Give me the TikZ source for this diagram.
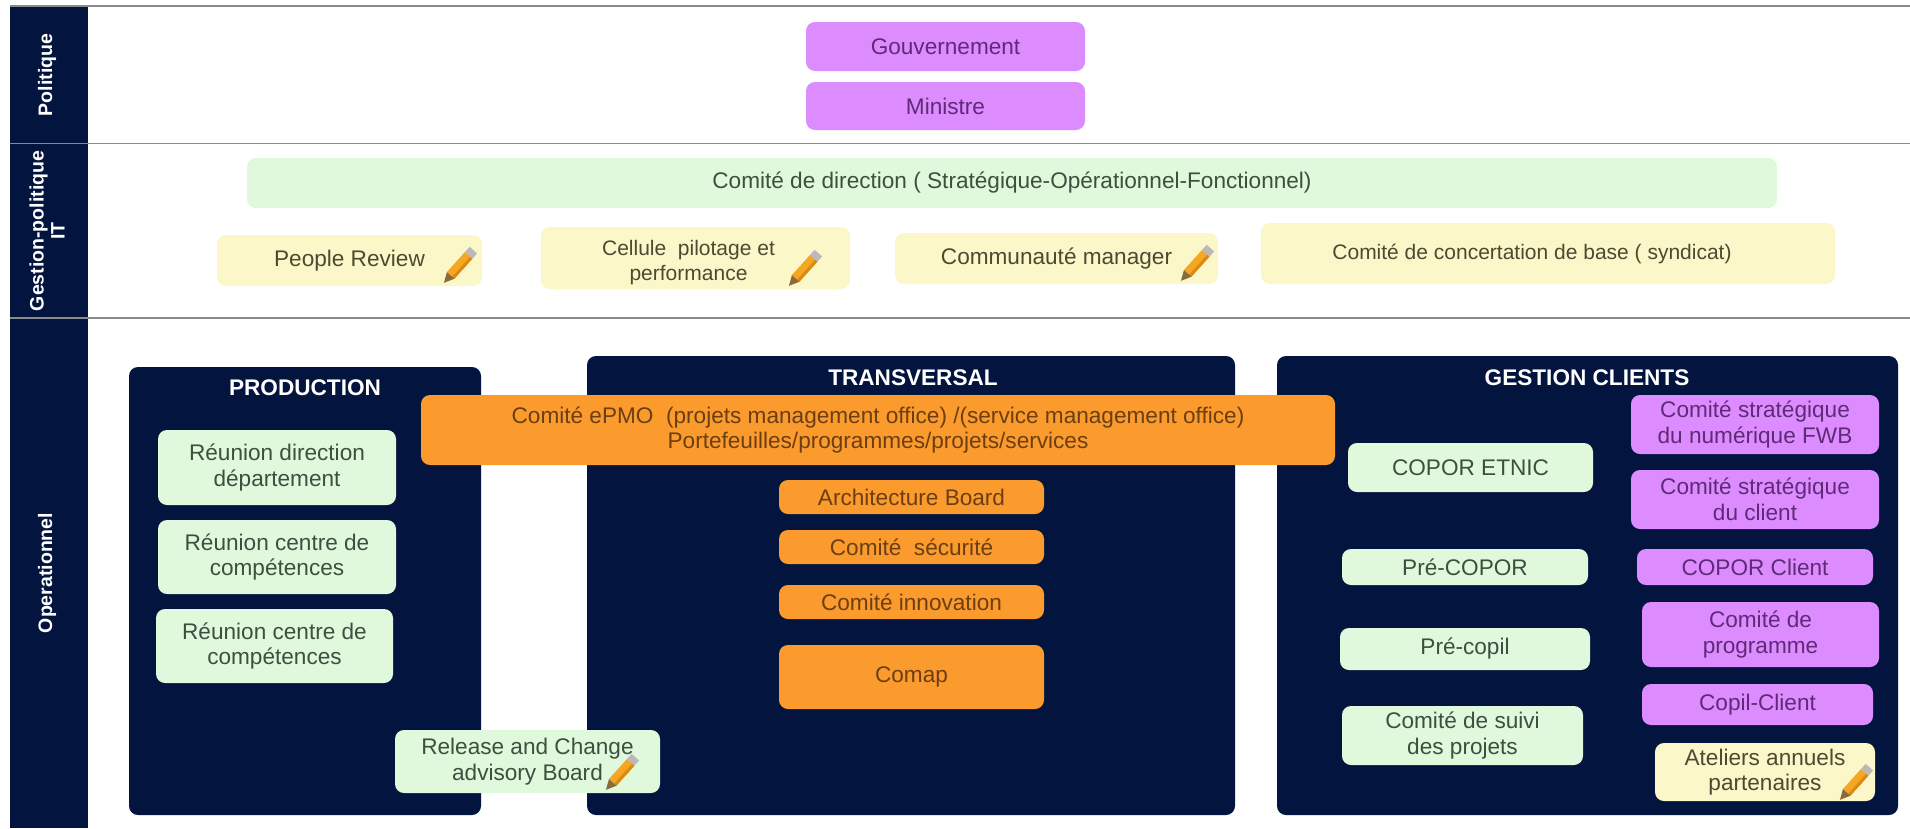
\documentclass[tikz,border=0pt]{standalone}
\usepackage{fontspec}
\setmainfont{Liberation Sans}
\definecolor{navy}{HTML}{03143F}
\definecolor{purp}{HTML}{DC8CFF}
\definecolor{grn}{HTML}{E0F8DC}
\definecolor{yel}{HTML}{FBF7C8}
\definecolor{org}{HTML}{FB9A2D}
\definecolor{rulegray}{HTML}{8A8A8A}
\definecolor{tgrn}{HTML}{3E4F3F}
\definecolor{tyel}{HTML}{4B4A32}
\definecolor{tpur}{HTML}{5F2A77}
\definecolor{torg}{HTML}{6B3F12}
\definecolor{penbody}{HTML}{F5A623}
\definecolor{penedge}{HTML}{D98A12}
\definecolor{pentip}{HTML}{8A6A3A}
\newcommand{\bx}[7]{%
 \pgfmathsetmacro{\bw}{#4-#2}\pgfmathsetmacro{\bh}{#5-#3}%
 \pgfmathsetmacro{\cx}{(#2+#4)/2}\pgfmathsetmacro{\cy}{(#3+#5)/2}%
 \node[#6,minimum width=\bw pt,minimum height=\bh pt] (#1) at (\cx,\cy) {#7};}
\newcommand{\pencilat}[2]{%
 \begin{scope}[shift={(#1,#2)},rotate=48]
  \fill[penbody] (-14,-5) rectangle (13,5);
  \fill[penedge] (-14,2) rectangle (13,5);
  \fill[gray!55] (13,-5) rectangle (20,5);
  \fill[pentip] (-14,-5) -- (-24,0) -- (-14,5) -- cycle;
 \end{scope}}
\tikzset{
 x=1pt,y=-1pt,
 base/.style={rounded corners=9pt,align=center,font=\fontsize{22.6}{25.5}\selectfont,inner sep=0pt},
 pgreen/.style={base,fill=grn,text=tgrn},
 pyel/.style={base,fill=yel,text=tyel},
 psmall/.style={pyel,font=\fontsize{21}{25}\selectfont},
 ppur/.style={base,fill=purp,text=tpur},
 porg/.style={base,fill=org,text=torg},
 panel/.style={rounded corners=9pt,fill=navy},
 sidebar/.style={fill=navy},
 sidelabel/.style={text=white,rotate=90,align=center,font=\fontsize{19.5}{21}\selectfont\bfseries},
 paneltitle/.style={text=white,font=\fontsize{22.6}{25}\selectfont\bfseries},
 rowline/.style={draw=rulegray,line width=1.2pt}
}
\begin{document}
\begin{tikzpicture}
\useasboundingbox (0,0) rectangle (1910,828);
\fill[white] (0,0) rectangle (1910,828);
\fill[sidebar] (10,6) rectangle (88,828);
\coordinate (l1a) at (10,6); \coordinate (l1b) at (1910,6);
\coordinate (l2a) at (10,143.5); \coordinate (l2b) at (1910,143.5);
\coordinate (l3a) at (10,318); \coordinate (l3b) at (1910,318);
\draw[rowline] (l1a) -- (l1b);
\draw[rowline] (l2a) -- (l2b);
\draw[rowline] (l3a) -- (l3b);
\node[sidelabel] (s1) at (47,75) {Politique};
\node[sidelabel] (s2) at (47,231) {Gestion-politique\\IT};
\node[sidelabel] (s3) at (47,573) {Operationnel};

\bx{gouv}{806}{22}{1085}{71}{ppur}{Gouvernement}
\bx{min}{806}{82}{1085}{130}{ppur}{Ministre}
\bx{codir}{247}{158}{1777}{208}{pgreen}{Comité de direction ( Stratégique-Opérationnel-Fonctionnel)}
\bx{people}{217}{235}{482}{286}{pyel}{People Review}
\bx{cellule}{541}{227}{850}{289}{psmall}{\rule{0pt}{25pt}Cellule~ pilotage et\hspace*{14pt}\\performance\hspace*{14pt}}
\bx{commu}{895}{233}{1218}{284}{pyel}{Communauté manager}
\bx{concert}{1261}{223}{1835}{284}{psmall}{Comité de concertation de base ( syndicat)\hspace*{32pt}}
\pencilat{460}{265}
\pencilat{805}{268}
\pencilat{1197}{263}

\bx{prod}{129}{367}{481}{815}{panel}{}
\bx{trans}{587}{356}{1235}{815}{panel}{}
\bx{gest}{1277}{356}{1898}{815}{panel}{}
\node[paneltitle] (tprod) at (305,388) {PRODUCTION};
\node[paneltitle] (ttrans) at (913,378) {TRANSVERSAL};
\node[paneltitle] (tgest) at (1587,378) {GESTION CLIENTS};

\bx{epmo}{421}{395}{1335}{465}{porg}{Comité ePMO~ (projets management office) /(service management office)\\Portefeuilles/programmes/projets/services}
\bx{r1}{158}{430}{396}{505}{pgreen}{Réunion direction\\département}
\bx{r2}{158}{520}{396}{594}{pgreen}{Réunion centre de\\compétences}
\bx{r3}{156}{609}{393}{683}{pgreen}{Réunion centre de\\compétences}
\bx{release}{395}{730}{660}{793}{pgreen}{Release and Change\\advisory Board}
\pencilat{622}{772}

\bx{arch}{779}{480}{1044}{514}{porg}{Architecture Board}
\bx{secu}{779}{530}{1044}{564}{porg}{Comité~ sécurité}
\bx{inno}{779}{585}{1044}{619}{porg}{Comité innovation}
\bx{comap}{779}{645}{1044}{709}{porg}{Comap}

\bx{etnic}{1348}{443}{1593}{492}{pgreen}{COPOR ETNIC}
\bx{precopor}{1342}{549}{1588}{585}{pgreen}{Pré-COPOR}
\bx{precopil}{1340}{628}{1590}{670}{pgreen}{Pré-copil}
\bx{suivi}{1342}{706}{1583}{765}{pgreen}{Comité de suivi\\des projets}

\bx{strat1}{1631}{395}{1879}{454}{ppur}{Comité stratégique\\du numérique FWB}
\bx{strat2}{1631}{470}{1879}{529}{ppur}{Comité stratégique\\du client}
\bx{coporc}{1637}{549}{1873}{585}{ppur}{COPOR Client}
\bx{prog}{1642}{602}{1879}{667}{ppur}{Comité de\\programme}
\bx{copilc}{1642}{684}{1873}{725}{ppur}{Copil-Client}
\bx{ateliers}{1655}{743}{1875}{801}{pyel}{Ateliers annuels\\partenaires}
\pencilat{1856}{782}
\end{tikzpicture}
\end{document}
